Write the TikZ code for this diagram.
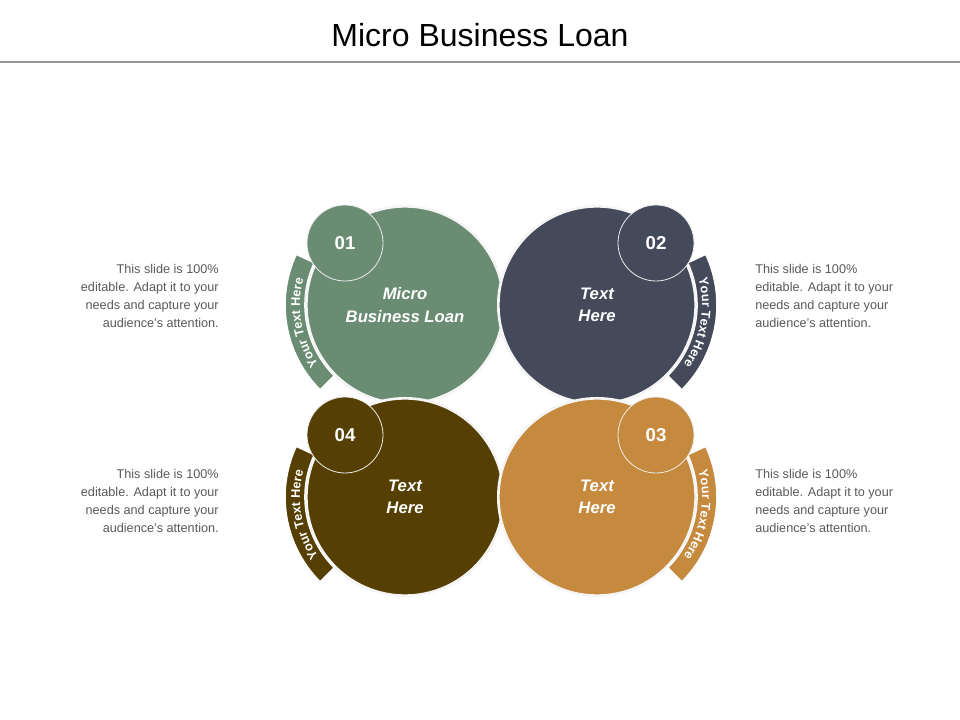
\documentclass[tikz,border=0pt]{standalone}
\usepackage{fontspec}
\setmainfont{Liberation Sans}
\usetikzlibrary{decorations.text}
\definecolor{cgreen}{HTML}{6A8C73}
\definecolor{cslate}{HTML}{454A5B}
\definecolor{cbrown}{HTML}{553F02}
\definecolor{corange}{HTML}{C68A3E}
\definecolor{ctxt}{HTML}{595959}
\begin{document}
\begin{tikzpicture}[x=0.75pt,y=0.75pt,
  big/.style={circle,minimum size=148pt,inner sep=0pt,draw=white!92!gray,line width=2pt,text=white,font=\bfseries\itshape\fontsize{12.5}{17}\selectfont,align=center},
  small/.style={circle,minimum size=57pt,inner sep=0pt,draw=white!85!gray,line width=0.6pt,text=white,font=\bfseries\fontsize{14}{18}\selectfont},
  side/.style={text=ctxt,font=\fontsize{9.5}{13.5}\selectfont,inner sep=0pt},
  band/.style={draw=white,line width=1.2pt}]
\useasboundingbox (0,0) rectangle (960,720);
\node[font=\fontsize{24}{30}\selectfont] (title) at (480,685) {Micro Business Loan};
\draw[line width=2pt,color=black!40] (0,658) coordinate (l1) -- (960,658) coordinate (l2);
% bands
\fill[cgreen,band] (405,415) ++(155:120) arc[start angle=155,end angle=225,radius=120] -- ++(45:20) arc[start angle=225,end angle=155,radius=100] -- cycle;
\fill[cslate,band] (597,415) ++(25:120) arc[start angle=25,end angle=-45,radius=120] -- ++(135:20) arc[start angle=-45,end angle=25,radius=100] -- cycle;
\fill[cbrown,band] (405,223) ++(155:120) arc[start angle=155,end angle=225,radius=120] -- ++(45:20) arc[start angle=225,end angle=155,radius=100] -- cycle;
\fill[corange,band] (597,223) ++(25:120) arc[start angle=25,end angle=-45,radius=120] -- ++(135:20) arc[start angle=-45,end angle=25,radius=100] -- cycle;
\foreach \cx/\cy in {405/415,405/223}{
 \path[decorate,decoration={text along path,text align=center,text={|\bfseries\fontsize{9.5}{11}\selectfont\color{white}|Your Text Here}}]
  (\cx,\cy) ++(225:105) arc[start angle=225,end angle=155,radius=105];}
\foreach \cx/\cy in {597/415,597/223}{
 \path[decorate,decoration={text along path,text align=center,text={|\bfseries\fontsize{9.5}{11}\selectfont\color{white}|Your Text Here}}]
  (\cx,\cy) ++(25:105) arc[start angle=25,end angle=-45,radius=105];}
% circles
\node[big,fill=cgreen] (c1) at (405,415) {Micro\\Business Loan};
\node[big,fill=cslate] (c2) at (597,415) {Text\\Here};
\node[big,fill=cbrown] (c4) at (405,223) {Text\\Here};
\node[big,fill=corange] (c3) at (597,223) {Text\\Here};
\node[small,fill=cgreen] (n1) at (345,477) {01};
\node[small,fill=cslate] (n2) at (656,477) {02};
\node[small,fill=cbrown] (n4) at (345,285) {04};
\node[small,fill=corange] (n3) at (656,285) {03};
% side texts
\node[side,align=right,anchor=north east] (t1) at (219,456) {This slide is 100\%\\editable. Adapt it to your\\needs and capture your\\audience's attention.};
\node[side,align=left,anchor=north west] (t2) at (755,456) {This slide is 100\%\\editable. Adapt it to your\\needs and capture your\\audience's attention.};
\node[side,align=right,anchor=north east] (t4) at (219,251) {This slide is 100\%\\editable. Adapt it to your\\needs and capture your\\audience's attention.};
\node[side,align=left,anchor=north west] (t3) at (755,251) {This slide is 100\%\\editable. Adapt it to your\\needs and capture your\\audience's attention.};
\end{tikzpicture}
\end{document}
